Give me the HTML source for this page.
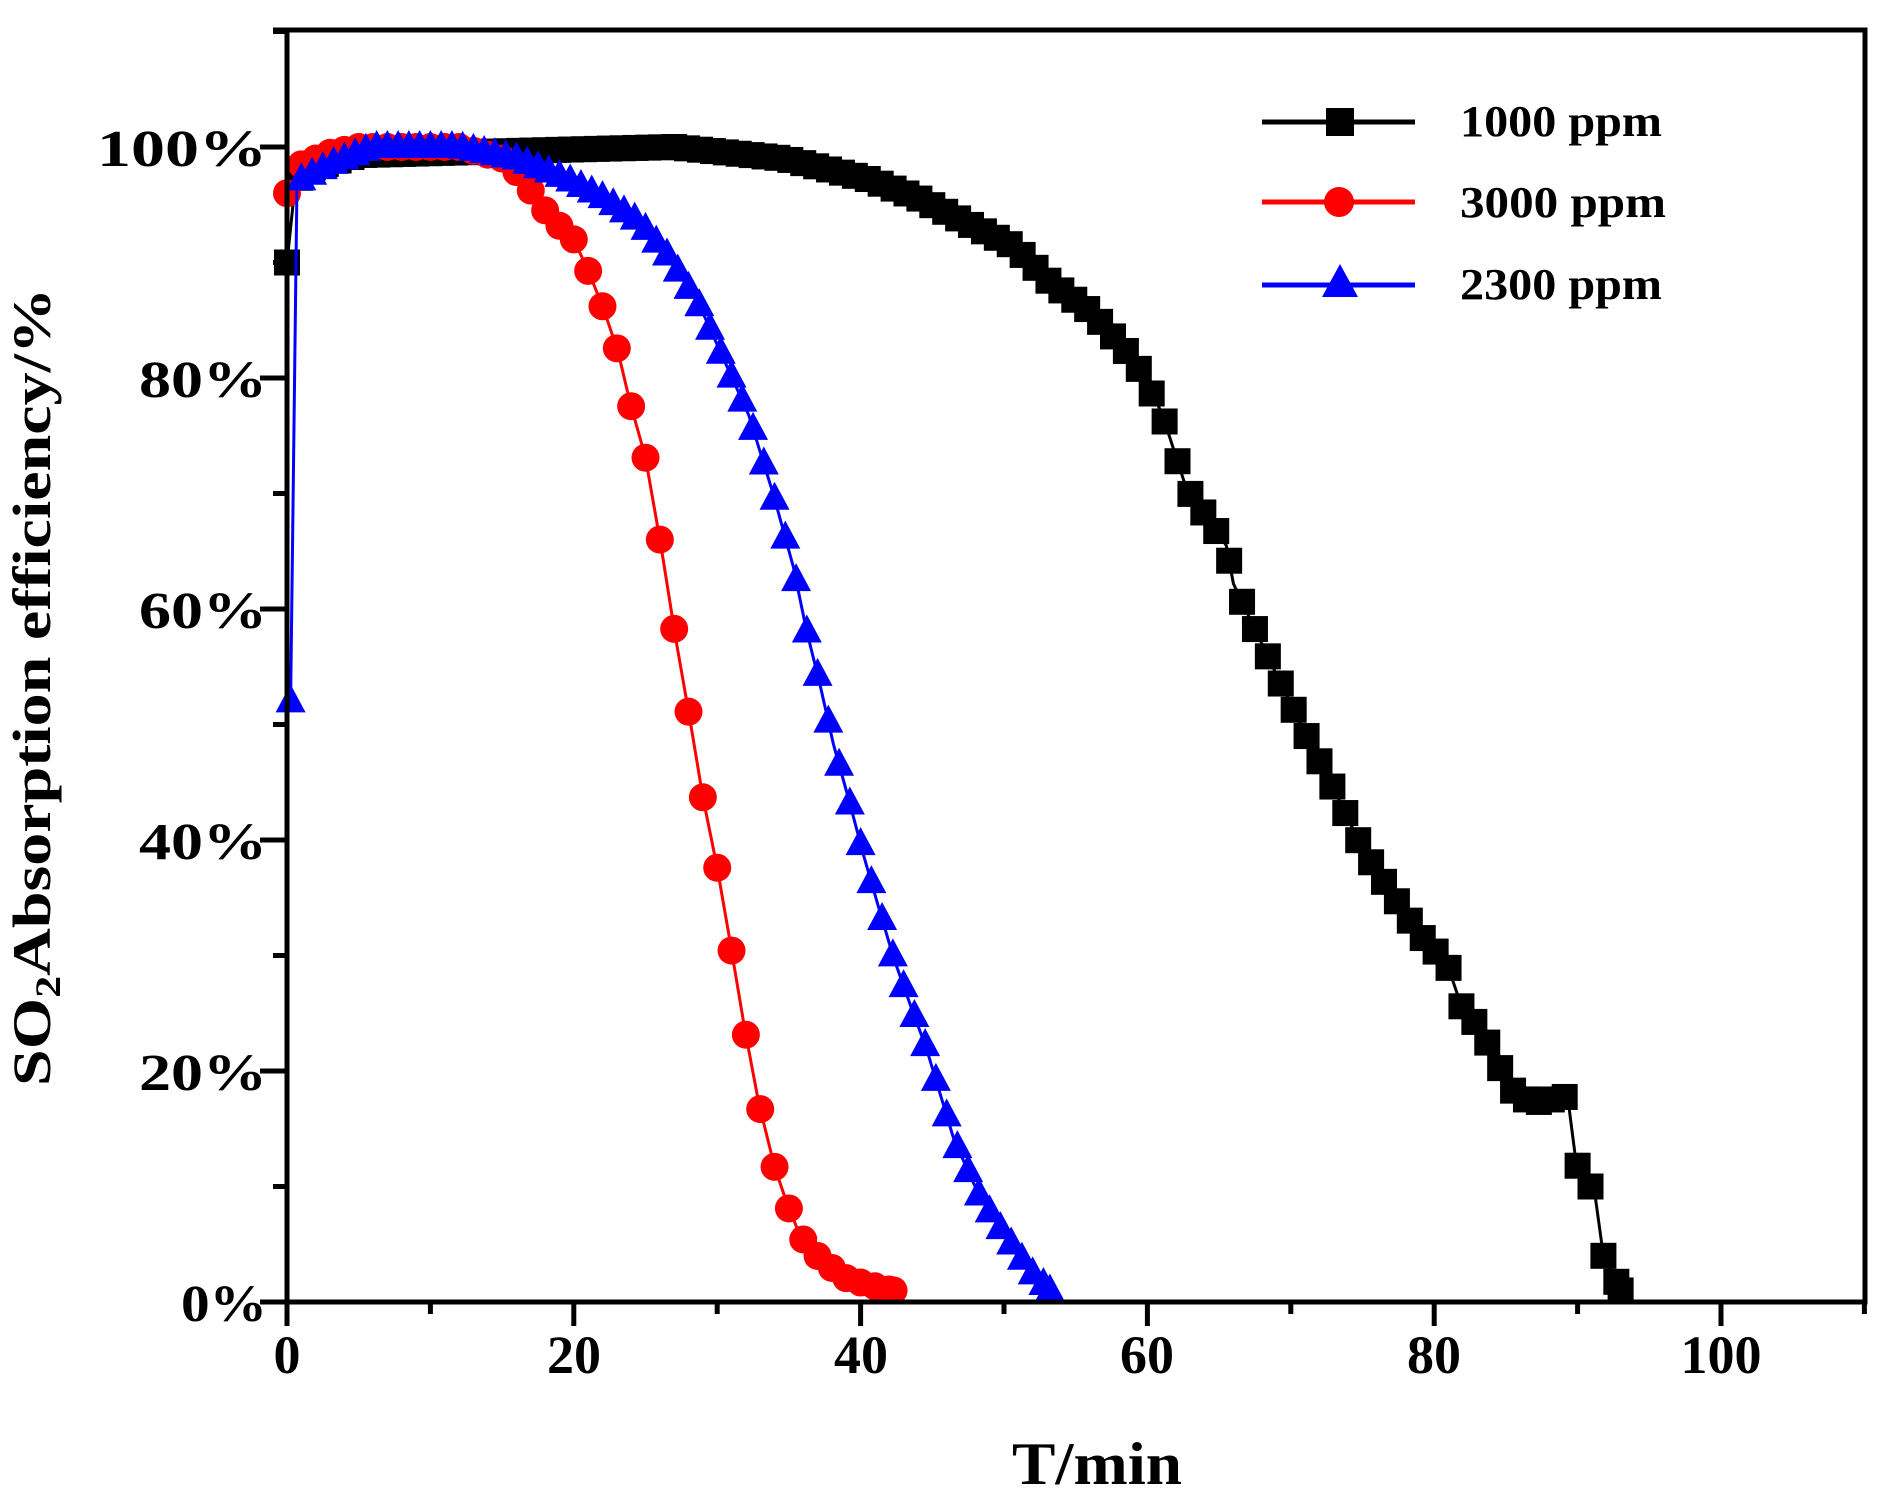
<!DOCTYPE html>
<html><head><meta charset="utf-8"><style>
html,body{margin:0;padding:0;background:#fff;}
svg{display:block;}
text{font-family:"Liberation Serif",serif;font-weight:bold;fill:#000;}
</style></head><body>
<svg id="s" width="1889" height="1510" viewBox="0 0 1889 1510" xmlns="http://www.w3.org/2000/svg">
<g id="data"></g>
<g stroke="#000" stroke-width="5" fill="none">
<path d="M287 28 V1302 H1865 V30 H273"/>
</g>
<g id="ticks" stroke="#000" stroke-width="5"></g>
<g font-size="52">
<text x="267" y="166" text-anchor="end" textLength="170" lengthAdjust="spacingAndGlyphs">100%</text>
<text x="267" y="397" text-anchor="end" textLength="128" lengthAdjust="spacingAndGlyphs">80%</text>
<text x="267" y="628" text-anchor="end" textLength="128" lengthAdjust="spacingAndGlyphs">60%</text>
<text x="267" y="859" text-anchor="end" textLength="128" lengthAdjust="spacingAndGlyphs">40%</text>
<text x="267" y="1090" text-anchor="end" textLength="128" lengthAdjust="spacingAndGlyphs">20%</text>
<text x="267" y="1321" text-anchor="end" textLength="86" lengthAdjust="spacingAndGlyphs">0%</text>
</g>
<g font-size="54">
<text x="287" y="1373" text-anchor="middle">0</text>
<text x="574" y="1373" text-anchor="middle">20</text>
<text x="861" y="1373" text-anchor="middle">40</text>
<text x="1147" y="1373" text-anchor="middle">60</text>
<text x="1434" y="1373" text-anchor="middle">80</text>
<text x="1721" y="1373" text-anchor="middle">100</text>
</g>
<text x="1012" y="1484" font-size="60" textLength="170" lengthAdjust="spacingAndGlyphs">T/min</text>
<text transform="translate(50,1086) rotate(-90)" font-size="54" textLength="798" lengthAdjust="spacingAndGlyphs">SO<tspan font-size="36" dy="10">2</tspan><tspan dy="-10">Absorption efficiency/%</tspan></text>
<g font-size="44">
<line x1="1262" y1="122" x2="1415" y2="122" stroke="#000" stroke-width="5"/>
<rect x="1326" y="108" width="28" height="28" fill="#000"/>
<text x="1460" y="136" textLength="202" lengthAdjust="spacingAndGlyphs">1000 ppm</text>
<line x1="1262" y1="202" x2="1415" y2="202" stroke="#f00" stroke-width="5"/>
<circle cx="1339" cy="202" r="15" fill="#f00"/>
<text x="1460" y="217" textLength="206" lengthAdjust="spacingAndGlyphs">3000 ppm</text>
<line x1="1262" y1="285" x2="1415" y2="285" stroke="#00f" stroke-width="5"/>
<polygon points="1340,264 1358,297 1322,297" fill="#00f"/>
<text x="1460" y="299" textLength="202" lengthAdjust="spacingAndGlyphs">2300 ppm</text>
</g>
</svg>
<script>
var X=function(v){return 287+v*14.34;},Y=function(v){return 1302-v*11.55;};
var t=document.getElementById('ticks'),h='';
for(var i=0;i<=11;i++){var yy=Y(i*10);h+='<line x1="'+(i%2?273:260)+'" y1="'+yy+'" x2="287" y2="'+yy+'"/>';}
for(var i=0;i<=11;i++){var xx=X(i*10);h+='<line x1="'+xx+'" y1="1302" x2="'+xx+'" y2="'+(i%2?1314:1326)+'"/>';}
t.innerHTML=h;
function interp(k,x){if(x<=k[0][0])return k[0][1];for(var i=1;i<k.length;i++){if(x<=k[i][0]){var a=k[i-1],b=k[i];return a[1]+(b[1]-a[1])*(x-a[0])/(b[0]-a[0]);}}return k[k.length-1][1];}
var black=[[0,90],[0.5,96],[1.1,98],[5,99.3],[20.4,99.8],[27,100],[34.7,99],[40.6,97.2],[44,95.6],[47.3,93.5],[50.7,91.4],[53.2,88.3],[56.1,85.7],[59.1,81.5],[61,77],[62.7,70.5],[65.5,65.5],[66,62.2],[69.2,53.8],[71.1,49],[73.2,43.9],[75,39.2],[76.7,36],[78.9,31.9],[80.9,29.3],[81.9,25.6],[83.3,23.5],[84.3,20.9],[85.5,18.3],[86.8,17.2],[89.3,17.8],[89.9,12],[91.2,9.4],[91.8,4],[93,1]];
var red=[[0,96],[1,98.5],[3,99.5],[5,100],[12,100],[15,99],[16.2,97.6],[18.3,94],[20,92],[21.1,89],[22.1,85.9],[23.1,82.2],[23.9,78],[25,73.1],[26.1,65.3],[27.1,57.5],[28.1,50.4],[29,43.7],[30,37.6],[30.8,31.9],[31.9,23.8],[32.9,17.2],[34,11.7],[34.9,8.4],[35.8,5.7],[37.2,3.7],[38.9,2.1],[40.5,1.5],[42.3,1]];
var blue=[[0.25,52],[0.7,97],[3,98.5],[6,100],[12,100],[16,99],[19.6,97.2],[22.1,95.6],[24.6,93.5],[26.7,90.4],[28.8,86.2],[30.5,81.5],[32.2,76.8],[33.9,70],[35.3,63.7],[36.2,58.3],[37.2,53.3],[38.1,48.3],[39.2,43.4],[40.2,38.7],[41.3,34],[42.3,29.8],[43.5,25.6],[44.6,21.9],[46.5,14.1],[48.2,9.4],[49.8,6.3],[51.9,2.6],[53.2,1]];
function pts(k,step){var a=[];var x0=k[0][0],x1=k[k.length-1][0];for(var x=x0;x<=x1+1e-6;x+=step)a.push([x,interp(k,x)]);if(a[a.length-1][0]<x1-0.01)a.push([x1,k[k.length-1][1]]);return a;}
var g=document.getElementById('data'),s='';
function line(p,c){return '<polyline fill="none" stroke="'+c+'" stroke-width="3" points="'+p.map(function(q){return X(q[0]).toFixed(1)+','+Y(q[1]).toFixed(1);}).join(' ')+'"/>';}
var pb=pts(black,0.9),pr=pts(red,1.0),pu=pts(blue,0.75);
s+=line(black,'#000');
pb.forEach(function(q){s+='<rect x="'+(X(q[0])-13)+'" y="'+(Y(q[1])-13)+'" width="26" height="26" fill="#000"/>';});
s+=line(red,'#f00');
pr.forEach(function(q){s+='<circle cx="'+X(q[0])+'" cy="'+Y(q[1])+'" r="14" fill="#f00"/>';});
s+=line(blue,'#00f');
pu.forEach(function(q){var x=X(q[0]),y=Y(q[1]);s+='<polygon fill="#00f" points="'+x+','+(y-17)+' '+(x+15)+','+(y+11)+' '+(x-15)+','+(y+11)+'"/>';});
g.innerHTML=s;
</script>
</body></html>
